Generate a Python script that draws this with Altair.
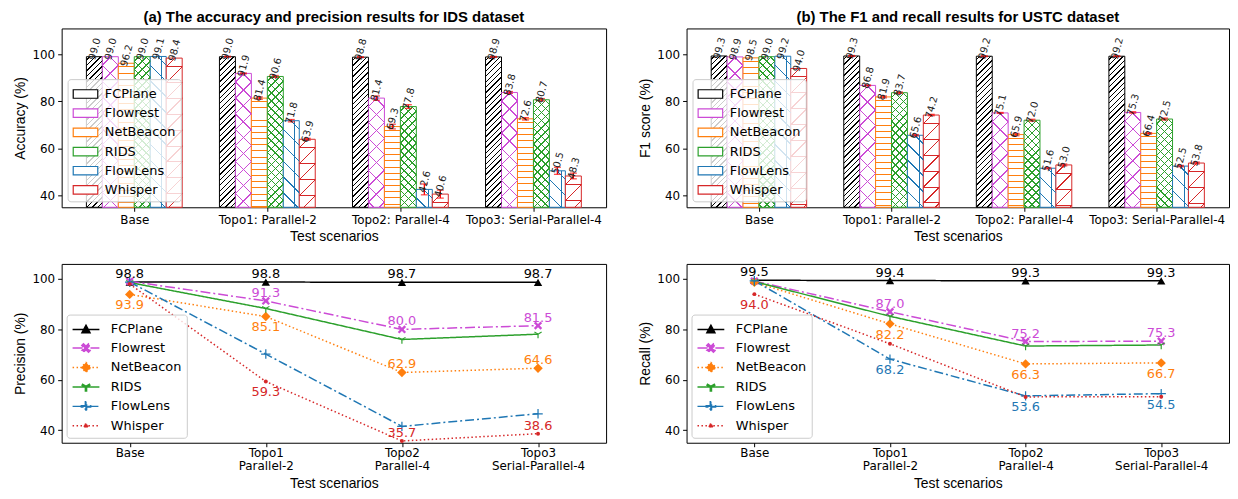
import math
import re
import json
import altair as alt
import pandas as pd

# ---------------- data ----------------
scenarios = ["Base", "Topo1: Parallel-2", "Topo2: Parallel-4", "Topo3: Serial-Parallel-4"]
scenarios_line = ["Base", "Topo1\nParallel-2", "Topo2\nParallel-4", "Topo3\nSerial-Parallel-4"]
methods = ["FCPlane", "Flowrest", "NetBeacon", "RIDS", "FlowLens", "Whisper"]
colors = ["#000000", "#cc4bd6", "#ff7f0e", "#2ca02c", "#1f77b4", "#d62728"]

# (a) accuracy on IDS (rows = methods, columns = scenarios)
accuracy_ids = [
    [99.0, 99.0, 98.8, 98.9],
    [99.0, 91.9, 81.4, 83.8],
    [96.2, 81.4, 69.3, 72.6],
    [99.0, 90.6, 77.8, 80.7],
    [99.1, 71.8, 42.6, 50.5],
    [98.4, 63.9, 40.6, 48.3],
]
accuracy_err = [
    [0, 0.2, 0.2, 0.2],
    [0, 0.2, 0.9, 0.4],
    [0, 0.5, 1.0, 0.5],
    [0, 0.4, 0.8, 0.5],
    [0, 0.5, 2.3, 1.5],
    [0, 0.4, 1.7, 1.2],
]
# (b) F1 on USTC
f1_ustc = [
    [99.3, 99.3, 99.2, 99.2],
    [98.9, 86.8, 75.1, 75.3],
    [98.5, 81.9, 65.9, 66.4],
    [99.0, 83.7, 72.0, 72.5],
    [99.2, 65.6, 51.6, 52.5],
    [94.0, 74.2, 53.0, 53.8],
]
f1_err = [
    [0, 0.2, 0.2, 0.2],
    [0, 0.2, 0.2, 0.3],
    [0, 0.4, 0.5, 0.3],
    [0, 0.3, 0.4, 0.4],
    [0, 0.3, 0.3, 0.3],
    [0, 0.3, 0.4, 0.4],
]
# precision on IDS
precision_ids = [
    [98.8, 98.8, 98.7, 98.7],
    [99.1, 91.3, 80.0, 81.5],
    [93.9, 85.1, 62.9, 64.6],
    [98.6, 88.3, 76.0, 78.1],
    [98.8, 70.2, 41.5, 46.5],
    [98.0, 59.3, 35.7, 38.6],
]
# recall on USTC
recall_ustc = [
    [99.5, 99.4, 99.3, 99.3],
    [99.2, 87.0, 75.2, 75.3],
    [98.7, 82.2, 66.3, 66.7],
    [99.0, 85.2, 73.4, 73.8],
    [99.3, 68.2, 53.6, 54.5],
    [94.0, 74.3, 53.2, 53.3],
]
# which values carry a text label: "a" above, "b" below, "" none
precision_label_side = [
    ["a", "a", "a", "a"],
    ["", "a", "a", "a"],
    ["b", "b", "a", "a"],
    ["", "", "", ""],
    ["", "", "", ""],
    ["", "b", "a", "a"],
]
recall_label_side = [
    ["a", "a", "a", "a"],
    ["", "a", "a", "a"],
    ["", "b", "b", "b"],
    ["", "", "", ""],
    ["", "b", "b", "b"],
    ["b", "", "", ""],
]

# ---------------- styles ----------------
hatches = [
    [("/", 5.5)],
    [("/", 16), ("\\", 16)],
    [("-", 6.2)],
    [("/", 8), ("\\", 8)],
    [("\\", 16), ("|", 16)],
    [("/", 16), ("-", 16)],
]
dashes = [[1, 0], [10, 3, 2, 3], [1.5, 2.5], [1, 0], [9, 3, 2, 3], [1.5, 2.5]]
TRIUP_PATH = "M0,-1L0.95,0.75L-0.95,0.75Z"
X_PATH = "M-1,-0.6L-0.6,-1L0,-0.4L0.6,-1L1,-0.6L0.4,0L1,0.6L0.6,1L0,0.4L-0.6,1L-1,0.6L-0.4,0Z"
DIAMOND_PATH = "M0,-1L1,0L0,1L-1,0Z"
TRI_PATH = ("M-0.14,0L-0.14,1L0.14,1L0.14,0.05L0.93,-0.4L0.8,-0.62L0,-0.16"
            "L-0.8,-0.62L-0.93,-0.4Z")
PLUS_PATH = "M-1,-0.13H-0.13V-1H0.13V-0.13H1V0.13H0.13V1H-0.13V0.13H-1Z"
shapes = ["triangle-up", X_PATH, "diamond", TRI_PATH, PLUS_PATH, "circle"]
msizes = [70, 70, 90, 70, 90, 16]


def scale_path(p, s):
    return re.sub(r"-?\d+(\.\d+)?", lambda m: f"{float(m.group(0)) * s:.3f}", p)


DOT_PATH = "M-0.2,0A0.2,0.2 0 1,0 0.2,0A0.2,0.2 0 1,0 -0.2,0Z"
legend_markers = [scale_path(TRIUP_PATH, 0.47), scale_path(X_PATH, 0.47),
                  scale_path(DIAMOND_PATH, 0.55), scale_path(TRI_PATH, 0.47),
                  scale_path(PLUS_PATH, 0.52), DOT_PATH]
legend_shapes = ["M-1.5,0H1.5" + mk for mk in legend_markers]

SQ2 = math.sqrt(2)


def rgb_of(c):
    return tuple(int(c[i:i + 2], 16) for i in (1, 3, 5))


def stripe_stops(D, spacing, lw, color, phase):
    r, g, b = rgb_of(color)
    clear = f"rgba({r},{g},{b},0)"
    solid = f"rgb({r},{g},{b})"
    stops = [{"offset": 0, "color": clear}]
    d = (phase % spacing) - spacing
    while d < D:
        if d + lw > 0:
            a = round(max(d, 0) / D, 5)
            e = round(min(d + lw, D) / D, 5)
            stops += [{"offset": a, "color": clear}, {"offset": a, "color": solid},
                      {"offset": e, "color": solid}, {"offset": e, "color": clear}]
        d += spacing
    stops.append({"offset": 1, "color": clear})
    return stops


def hatch_gradient(kind, period, w, h, color):
    lw = 1.0
    if kind == "-":
        return {"gradient": "linear", "x1": 0, "y1": 0, "x2": 0, "y2": 1,
                "stops": stripe_stops(h, period, lw, color, period * 0.5)}
    if kind == "|":
        return {"gradient": "linear", "x1": 0, "y1": 0, "x2": 1, "y2": 0,
                "stops": stripe_stops(w, period, lw, color, w * 0.7)}
    r = w / h
    b = (1 + r) / (1 + r * r)
    a = r * b
    D = (w + h) / SQ2
    sp = period / SQ2
    st = stripe_stops(D, sp, lw, color, sp * 0.5)
    if kind == "/":
        return {"gradient": "linear", "x1": 0, "y1": 0, "x2": a, "y2": b, "stops": st}
    return {"gradient": "linear", "x1": 1, "y1": 0, "x2": 1 - a, "y2": b, "stops": st}


color_scale = alt.Scale(domain=methods, range=colors)
LABEL_FONT = "DejaVu Sans"


def bar_panel(values, errs, title, ytitle, W):
    H = 180
    ymin, ymax = 35, 111
    xmin, xmax = -0.546, 3.546
    ux = W / (xmax - xmin)
    uy = H / (ymax - ymin)
    bw = 0.12 * ux
    recs = []
    for si, m in enumerate(methods):
        for gi in range(len(scenarios)):
            v = values[si][gi]
            h = (v - ymin) * uy
            fills = [hatch_gradient(k, p, bw, h, colors[si]) for k, p in hatches[si]]
            while len(fills) < 2:
                fills.append("transparent")
            recs.append({"method": m, "gi": gi, "si": si, "val": v,
                         "err": errs[si][gi], "h1": fills[0], "h2": fills[1]})
    base = alt.Chart(alt.Data(values=recs)).transform_calculate(
        x0="datum.gi - 0.36 + datum.si * 0.12",
        x1="datum.gi - 0.24 + datum.si * 0.12",
        xc="datum.gi - 0.30 + datum.si * 0.12",
        lo="datum.val - datum.err",
        hi="datum.val + datum.err",
    )
    xscale = alt.Scale(domain=[xmin, xmax], nice=False, zero=False)
    yscale = alt.Scale(domain=[ymin, ymax], nice=False, zero=False)
    xaxis = alt.Axis(values=[0, 1, 2, 3], labelExpr=json.dumps(scenarios) + "[datum.value]",
                     title="Test scenarios", labelFlush=False, labelOverlap=False)
    yaxis = alt.Axis(values=[40, 60, 80, 100], title=ytitle)
    X0 = alt.X("x0:Q", scale=xscale, axis=xaxis)
    XC = alt.X("xc:Q", scale=xscale, axis=xaxis)
    Y = alt.Y("val:Q", scale=yscale, axis=yaxis, stack=None)
    legend = alt.Legend(orient="none", legendX=6, legendY=51, title=None,
                        symbolType="M-1.3,-0.45H1.3V0.45H-1.3Z", symbolSize=361,
                        symbolOffset=3, symbolFillColor="white", symbolStrokeWidth=1.2,
                        labelFont=LABEL_FONT, labelFontSize=13, labelColor="black",
                        labelOffset=9, rowPadding=1.3, padding=4.5,
                        fillColor="rgba(255,255,255,0.8)", strokeColor="#cccccc",
                        cornerRadius=3)
    bars = base.mark_bar(fill="white", strokeWidth=1).encode(
        x=X0, x2="x1:Q", y=Y, y2=alt.datum(ymin),
        stroke=alt.Stroke("method:N", scale=color_scale, legend=legend))
    hatch1 = base.mark_bar(aria=False).encode(
        x=X0, x2="x1:Q", y=Y, y2=alt.datum(ymin), fill=alt.Fill("h1:N", scale=None))
    hatch2 = base.mark_bar(aria=False).encode(
        x=X0, x2="x1:Q", y=Y, y2=alt.datum(ymin), fill=alt.Fill("h2:N", scale=None))
    eb = base.transform_filter("datum.err > 0")
    err_rule = eb.mark_rule(color="red", strokeWidth=1.3).encode(
        x=XC, y=alt.Y("lo:Q", scale=yscale, axis=yaxis), y2="hi:Q")
    cap_lo = eb.mark_tick(color="red", orient="horizontal", size=7, thickness=1.3).encode(
        x=XC, y=alt.Y("lo:Q", scale=yscale, axis=yaxis))
    cap_hi = eb.mark_tick(color="red", orient="horizontal", size=7, thickness=1.3).encode(
        x=XC, y=alt.Y("hi:Q", scale=yscale, axis=yaxis))
    labels = base.mark_text(angle=285, align="left", baseline="middle", dx=-3.5, dy=-1.5,
                            fontSize=10, font=LABEL_FONT, color="#222222").encode(
        x=XC, y=Y, text=alt.Text("val:Q", format=".1f"))
    return alt.layer(bars, hatch1, hatch2, err_rule, cap_lo, cap_hi, labels).properties(
        width=W, height=H, title=title)


point_keys = ["pt-" + m for m in methods]

indep_all = dict(stroke="independent", strokeDash="independent", fill="independent",
                 shape="independent", size="independent", color="independent")


def line_panel(values, sides, ytitle, W):
    H = 180
    recs = []
    for si, m in enumerate(methods):
        for gi, sc in enumerate(scenarios_line):
            recs.append({"method": m, "m2": point_keys[si], "scenario": sc,
                         "val": values[si][gi], "side": sides[si][gi]})
    df = pd.DataFrame(recs)
    base = alt.Chart(df)
    X = alt.X("scenario:N", sort=scenarios_line,
              scale=alt.Scale(type="point", padding=0.5),
              axis=alt.Axis(labelAngle=0, labelExpr="split(datum.label, '\\n')",
                            labelLineHeight=13, labelPadding=1, titlePadding=5,
                            title="Test scenarios"))
    Y = alt.Y("val:Q", scale=alt.Scale(domain=[35, 106], nice=False, zero=False),
              axis=alt.Axis(values=[40, 60, 80, 100], title=ytitle))
    line_legend = alt.Legend(orient="none", legendX=5, legendY=51, title=None,
                             symbolSize=324, symbolOffset=4.5, symbolStrokeWidth=1.5,
                             labelFont=LABEL_FONT, labelFontSize=13, labelColor="black",
                             labelOffset=15, rowPadding=1.6, padding=5,
                             fillColor="rgba(255,255,255,0.8)", strokeColor="#cccccc",
                             cornerRadius=3)
    dash_scale = alt.Scale(domain=methods, range=dashes)
    lines = base.mark_line(strokeWidth=1.5).encode(
        x=X, y=Y,
        stroke=alt.Stroke("method:N", scale=color_scale, legend=line_legend),
        strokeDash=alt.StrokeDash("method:N", scale=dash_scale, legend=line_legend))
    carrier = base.transform_filter("false").mark_point(
        filled=True, opacity=1, strokeWidth=1.5).encode(
        x=X, y=Y,
        stroke=alt.Stroke("method:N", scale=color_scale, legend=line_legend),
        strokeDash=alt.StrokeDash("method:N", scale=dash_scale, legend=line_legend),
        fill=alt.Fill("method:N", scale=color_scale, legend=line_legend),
        shape=alt.Shape("method:N", scale=alt.Scale(domain=methods, range=legend_shapes),
                        legend=line_legend))
    pcol = alt.Color("m2:N", scale=alt.Scale(domain=point_keys, range=colors), legend=None)
    points = base.mark_point(filled=True, opacity=1, strokeWidth=0).encode(
        x=X, y=Y, color=pcol,
        shape=alt.Shape("m2:N", scale=alt.Scale(domain=point_keys, range=shapes), legend=None),
        size=alt.Size("m2:N", scale=alt.Scale(type="ordinal", domain=point_keys, range=msizes),
                      legend=None))
    above = base.transform_filter("datum.side == 'a'").mark_text(
        baseline="alphabetic", dy=-4, fontSize=13, font=LABEL_FONT).encode(
        x=X, y=Y, text=alt.Text("val:Q", format=".1f"), color=pcol)
    below = base.transform_filter("datum.side == 'b'").mark_text(
        baseline="top", dy=5, fontSize=13, font=LABEL_FONT).encode(
        x=X, y=Y, text=alt.Text("val:Q", format=".1f"), color=pcol)
    inner1 = alt.layer(lines, carrier)
    inner2 = alt.layer(points, above, below)
    return alt.layer(inner1, inner2).resolve_scale(**indep_all).resolve_legend(
        **indep_all).properties(width=W, height=H)


indep = dict(x="independent", y="independent", **indep_all)

top = alt.hconcat(
    bar_panel(accuracy_ids, accuracy_err,
              "(a) The accuracy and precision results for IDS dataset", "Accuracy (%)", 548),
    bar_panel(f1_ustc, f1_err,
              "(b) The F1 and recall results for USTC dataset", "F1 score (%)", 546),
    spacing=31,
).resolve_scale(**indep).resolve_legend(**indep_all)

bottom = alt.hconcat(
    line_panel(precision_ids, precision_label_side, "Precision (%)", 548),
    line_panel(recall_ustc, recall_label_side, "Recall (%)", 546),
    spacing=31,
).resolve_scale(**indep).resolve_legend(**indep_all)

chart = alt.vconcat(top, bottom, spacing=19).resolve_scale(**indep).resolve_legend(
    **indep_all).properties(
    padding={"left": 5, "top": 0, "right": 0, "bottom": 0}
).configure_view(stroke="black", strokeWidth=1).configure_axis(
    domain=False, grid=False, tickColor="black", tickSize=4, labelPadding=3,
    labelFont=LABEL_FONT, labelFontSize=12, labelColor="black",
    titleFont="Liberation Sans", titleFontSize=14, titleFontWeight="normal",
    titleColor="black", titlePadding=4,
).configure_title(
    font="Liberation Sans", fontSize=15, fontWeight="bold", anchor="middle",
    offset=3, color="black",
)

chart.save("out.html", embed_options={"renderer": "svg", "actions": False})
